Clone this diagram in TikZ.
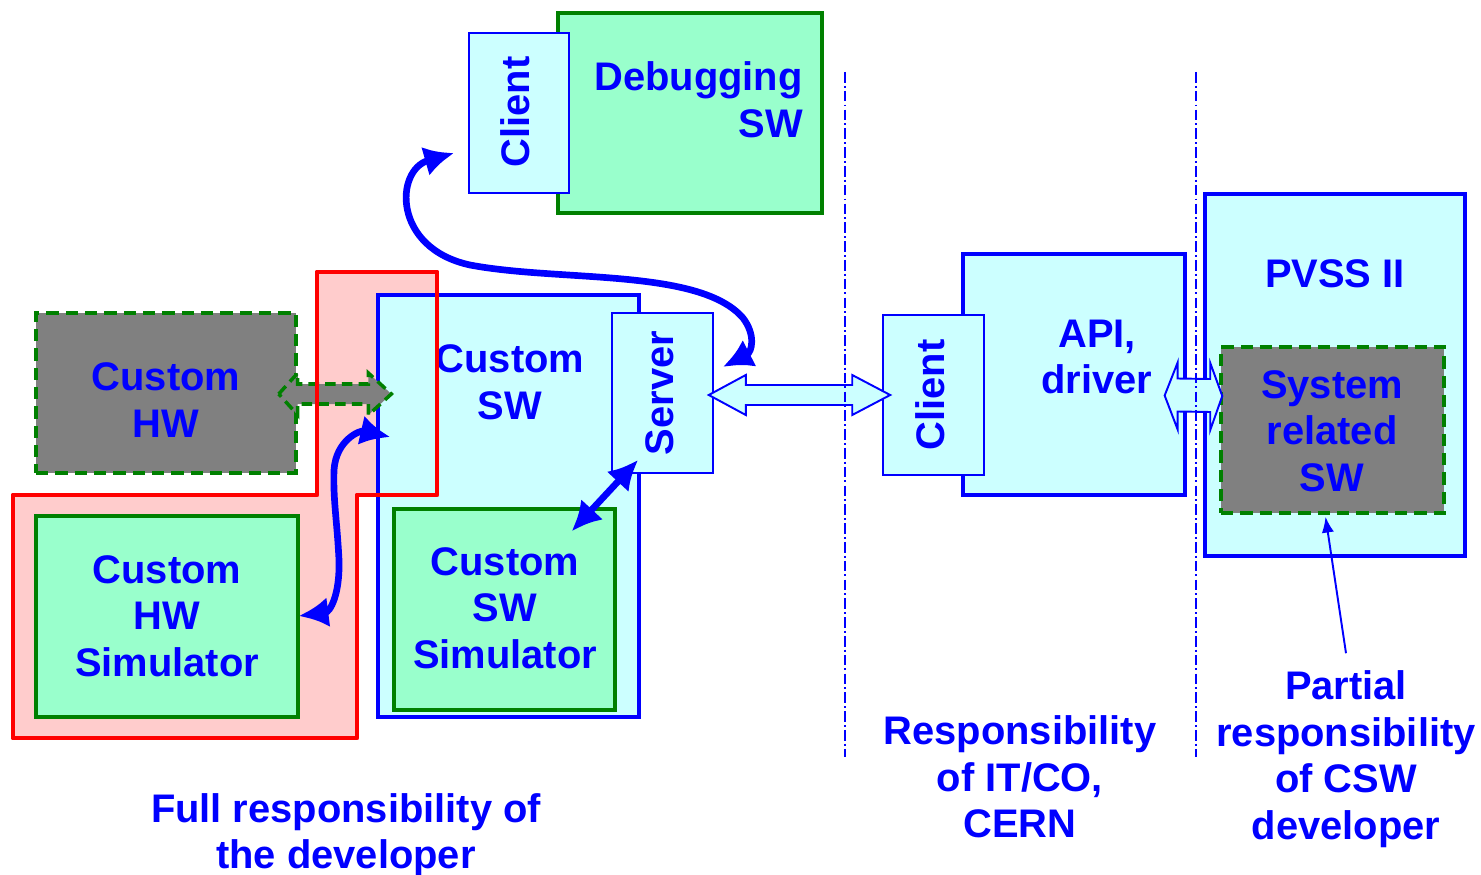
\documentclass[tikz,border=0pt]{standalone}
\usepackage{fontspec}
\setmainfont{Liberation Sans}
\usetikzlibrary{arrows.meta,calc}
\definecolor{boxcyan}{HTML}{CCFFFF}
\definecolor{boxgreen}{HTML}{99FFCC}
\definecolor{linegreen}{HTML}{008000}
\definecolor{hwgray}{HTML}{808080}
\definecolor{zonepink}{HTML}{FFCCCC}
\begin{document}
\begin{tikzpicture}[x=0.02cm,y=-0.02cm,
  txt/.style={text=blue, font=\bfseries\fontsize{22.7}{26.5}\selectfont, align=center, inner sep=0pt},
  cyanbox/.style={draw=blue, fill=boxcyan, line width=1.9pt, inner sep=0pt},
  thinbox/.style={draw=blue, fill=boxcyan, line width=0.9pt, inner sep=0pt},
  greenbox/.style={draw=linegreen, fill=boxgreen, line width=1.8pt, inner sep=0pt},
  graybox/.style={draw=linegreen, fill=hwgray, line width=2pt, dash pattern=on 7pt off 4pt, inner sep=0pt},
  flowline/.style={draw=blue, line width=3.8pt, {Latex[length=17pt,width=17pt]}-{Latex[length=17pt,width=17pt]}},
  noteline/.style={draw=blue, line width=1.1pt, -{Latex[length=9pt,width=7pt]}},
  blockarrow/.style={draw=blue, fill=boxcyan, line width=1.1pt, line join=miter},
  hwarrow/.style={draw=linegreen, fill=hwgray, line width=2pt, dash pattern=on 6pt off 3.5pt},
  zone/.style={draw=red, line width=2.8pt, line join=round},
  divider/.style={draw=blue, line width=0.9pt, dash pattern=on 6pt off 1.8pt on 1.1pt off 1.8pt}]
\useasboundingbox (0,0) rectangle (1481,875);

% developer's zone (fill only, outline drawn later)
\fill[zonepink] (317,272) -- (437,272) -- (437,495) -- (357,495) -- (357,738)
  -- (13,738) -- (13,495) -- (317,495) -- cycle;

% debugging software
\node[greenbox, minimum width=5.28cm, minimum height=4.00cm] (dbg) at (690,113) {};
\node[thinbox, minimum width=2.00cm, minimum height=3.20cm] (cli1) at (519,113) {};
\node[txt, anchor=east, align=right] (dbgt) at (803,100) {Debugging\\SW};
\node[txt, rotate=90] (cli1t) at (515,112) {Client};

% custom hardware and simulators
\node[graybox, minimum width=5.20cm, minimum height=3.20cm] (hw) at (166,393) {};
\node[txt] (hwt) at (166,400) {Custom\\HW};
\node[greenbox, minimum width=5.24cm, minimum height=4.02cm] (hwsim) at (167,616.5) {};
\node[txt] (hwsimt) at (167,616) {Custom\\HW\\Simulator};

% custom software
\node[cyanbox, minimum width=5.22cm, minimum height=8.44cm] (sw) at (508.5,506) {};
\node[txt] (swt) at (510,382) {Custom\\SW};
\node[greenbox, minimum width=4.42cm, minimum height=4.02cm] (swsim) at (504.5,609.5) {};
\node[txt] (swsimt) at (505,608) {Custom\\SW\\Simulator};
\node[thinbox, minimum width=2.02cm, minimum height=3.20cm] (srv) at (662.5,393) {};
\node[txt, rotate=90] (srvt) at (660,393) {Server};

% hardware link (dashed block arrow)
\coordinate (hwl) at ($(hw.east)+(-19,1)$);
\coordinate (hwr) at ($(sw.west)+(15,-112)$);
\draw[hwarrow] (hwl) -- ++(19,-21) -- ++(0,11) -- ($(hwr)+(-23,-10)$) -- ++(0,-11)
  -- (hwr) -- ++(-23,21) -- ++(0,-11) -- ($(hwl)+(19,10)$) -- ++(0,11) -- cycle;

% developer's zone outline
\draw[zone] (317,272) -- (437,272) -- (437,495) -- (357,495) -- (357,738)
  -- (13,738) -- (13,495) -- (317,495) -- cycle;

% API / driver
\node[cyanbox, minimum width=4.44cm, minimum height=4.82cm] (api) at (1074,374.5) {};
\node[txt] (apit) at (1097,357) {API,\\driver};
\node[thinbox, minimum width=2.02cm, minimum height=3.20cm] (cli2) at (933.5,395) {};
\node[txt, rotate=90] (cli2t) at (930,395) {Client};

% PVSS II
\node[cyanbox, minimum width=5.20cm, minimum height=7.24cm] (pvss) at (1335,375) {};
\node[txt] (pvsst) at (1335,274) {PVSS II};
\node[graybox, minimum width=4.46cm, minimum height=3.32cm] (sys) at (1332.5,430) {};
\node[txt] (syst) at (1332,431) {System\\related\\SW};

% server <-> client block arrow
\coordinate (scl) at ($(srv.east)+(-5,2)$);
\coordinate (scr) at ($(cli2.west)+(8,0)$);
\draw[blockarrow] (scl) -- ++(37,-20) -- ++(0,10) -- ($(scr)+(-38,-10)$) -- ++(0,-10)
  -- (scr) -- ++(-38,20) -- ++(0,-10) -- ($(scl)+(37,10)$) -- ++(0,10) -- cycle;

% API <-> system software block arrow
\coordinate (asl) at ($(api.east)+(-22,21)$);
\coordinate (asr) at ($(sys.west)+(3,-34)$);
\draw[blockarrow] (asl) -- ++(13,-33) -- ++(0,16) -- ($(asr)+(-12,-17)$) -- ++(0,-16)
  -- (asr) -- ++(-12,34) -- ++(0,-18) -- ($(asl)+(13,16)$) -- ++(0,18) -- cycle;

% responsibility dividers
\draw[divider] (845,72) coordinate (d1top) -- (845,757) coordinate (d1bot);
\draw[divider] (1196,72) coordinate (d2top) -- (1196,757) coordinate (d2bot);

% data flows
\coordinate (dbgtip) at ($(cli1.west)+(-14,40)$);
\coordinate (srvtip) at ($(srv.east)+(9,-26)$);
\draw[flowline] (dbgtip) .. controls (395,170) and (392,248) .. (470,265)
  .. controls (560,282) and (700,268) .. (743,318)
  .. controls (756,335) and (752,352) .. (srvtip);

\coordinate (simtip) at ($(hwsim.east)+(-1,-0.5)$);
\coordinate (swtip) at ($(sw.west)+(14,-69)$);
\draw[flowline] (simtip) .. controls (330,612) and (340,595) .. (339,560)
  .. controls (337,520) and (333,500) .. (334,470)
  .. controls (336,440) and (360,430) .. (swtip);

\coordinate (swsimtip) at ($(swsim.north east)+(-45,24)$);
\coordinate (srvbot) at ($(srv.south west)+(27,-14)$);
\draw[flowline] (swsimtip) -- (srvbot);

% responsibility notes
\node[txt] (full) at (346,835) {Full responsibility of\\the developer};
\node[txt] (itco) at (1020,777) {Responsibility\\of IT/CO,\\CERN};
\node[txt] (part) at (1346,759) {Partial\\responsibility\\of CSW\\developer};
\coordinate (partstart) at ($(part.north)+(0,-17)$);
\coordinate (systip) at ($(sys.south)+(-7,2)$);
\draw[noteline] (partstart) -- (systip);
\end{tikzpicture}
\end{document}
